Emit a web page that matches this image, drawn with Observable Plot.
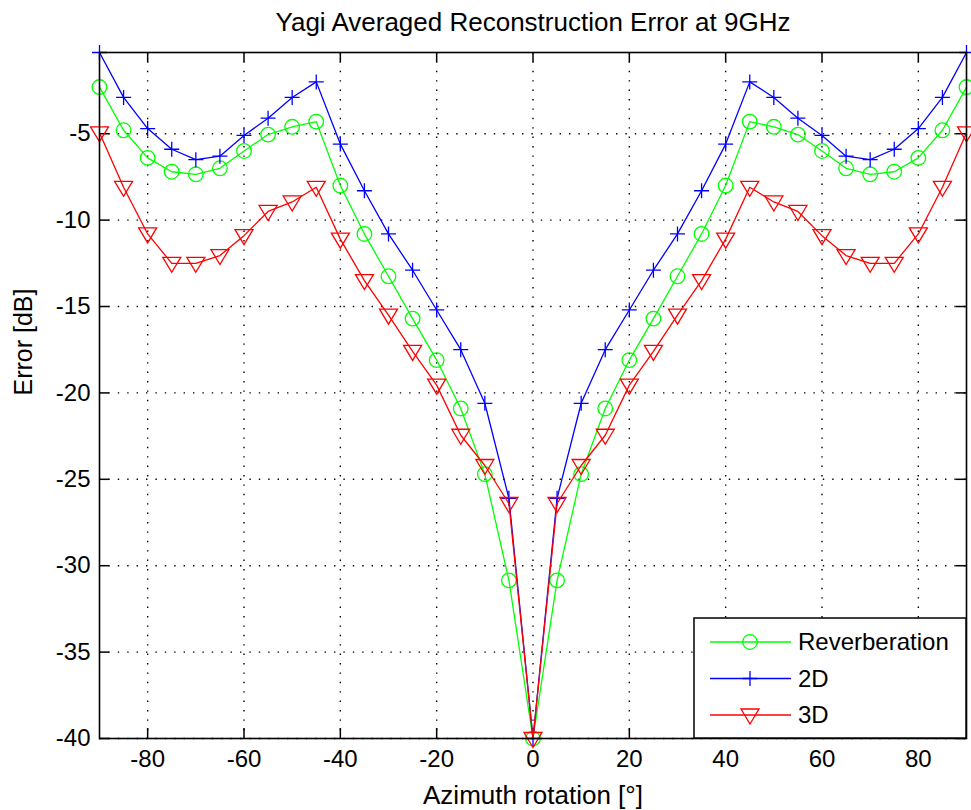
<!DOCTYPE html>
<html><head><meta charset="utf-8">
<script src="https://cdn.jsdelivr.net/npm/d3@7"></script>
<script src="https://cdn.jsdelivr.net/npm/@observablehq/plot@0.6"></script>
<style>
html,body{margin:0;padding:0;background:#fff;}
#chart svg{display:block}
</style></head><body><div id="chart"></div>
<script>
const title = "Yagi Averaged Reconstruction Error at 9GHz";
const xLabel = "Azimuth rotation [°]";
const yLabel = "Error [dB]";
const seriesNames = ["Reverberation", "2D", "3D"];
const seriesColors = ["#00ff00", "#0000ff", "#ff0000"];
const azimuth = [-90,-85,-80,-75,-70,-65,-60,-55,-50,-45,-40,-35,-30,-25,-20,-15,-10,-5,0,5,10,15,20,25,30,35,40,45,50,55,60,65,70,75,80,85,90];
const reverberation = [-2.3,-4.8,-6.4,-7.2,-7.35,-7.0,-6.0,-5.05,-4.6,-4.3,-8.0,-10.8,-13.25,-15.7,-18.1,-20.9,-24.7,-30.85,-40,-30.85,-24.7,-20.9,-18.1,-15.7,-13.25,-10.8,-8.0,-4.3,-4.6,-5.05,-6.0,-7.0,-7.35,-7.2,-6.4,-4.8,-2.3];
const twoD = [-0.3,-2.9,-4.7,-5.9,-6.5,-6.3,-5.1,-4.1,-2.9,-2.0,-5.6,-8.3,-10.8,-12.9,-15.2,-17.5,-20.6,-26.1,-40,-26.1,-20.6,-17.5,-15.2,-12.9,-10.8,-8.3,-5.6,-2.0,-2.9,-4.1,-5.1,-6.3,-6.5,-5.9,-4.7,-2.9,-0.3];
const threeD = [-4.95,-8.1,-10.8,-12.5,-12.5,-12.05,-10.9,-9.5,-8.95,-8.1,-11.1,-13.5,-15.5,-17.6,-19.55,-22.45,-24.2,-26.4,-40,-26.4,-24.2,-22.45,-19.55,-17.6,-15.5,-13.5,-11.1,-8.1,-8.95,-9.5,-10.9,-12.05,-12.5,-12.5,-10.8,-8.1,-4.95];
const xTicks = [-80,-60,-40,-20,0,20,40,60,80];
const yTicks = [-40,-35,-30,-25,-20,-15,-10,-5];

const W = 971, H = 810, mL = 99, mR = 5, mT = 52, mB = 72;
const fw = W - mL - mR, fh = H - mT - mB;

const seriesValues = [reverberation, twoD, threeD];
const rows = [];
seriesNames.forEach((s, i) => azimuth.forEach((a, j) => rows.push({series: s, az: a, err: seriesValues[i][j]})));

const plusSym = {draw(ctx, size) { const r = Math.sqrt(size / Math.PI); ctx.moveTo(-r, 0); ctx.lineTo(r, 0); ctx.moveTo(0, -r); ctx.lineTo(0, r); }};
const triDown = {draw(ctx, size) { const r = Math.sqrt(size / Math.PI); ctx.moveTo(-r * 1.2, -r * 0.8); ctx.lineTo(r * 1.2, -r * 0.8); ctx.lineTo(0, r * 1.2); ctx.closePath(); }};
const circleSym = {draw(ctx, size) { const r = Math.sqrt(size / Math.PI); ctx.moveTo(r, 0); ctx.arc(0, 0, r, 0, 2 * Math.PI); }};
const symbols = [circleSym, plusSym, triDown];
const radii = [7.3, 7.5, 7.5];

const grid = {stroke: "black", strokeOpacity: 1, strokeWidth: 1.4, strokeDasharray: "1.4,8"};
const tickStyle = {stroke: "black", strokeWidth: 1.5};
const fmt = d => String(d);

const marks = [
  Plot.gridX(xTicks, {...grid}),
  Plot.gridY(yTicks, {...grid}),
  Plot.tickX(xTicks, {x: d => d, ...tickStyle, insetTop: fh - 10}),
  Plot.tickX(xTicks, {x: d => d, ...tickStyle, insetBottom: fh - 10}),
  Plot.tickY(yTicks, {y: d => d, ...tickStyle, insetRight: fw - 10}),
  Plot.tickY(yTicks, {y: d => d, ...tickStyle, insetLeft: fw - 10}),
  Plot.axisX({ticks: xTicks, tickFormat: fmt, tickSize: 0, tickPadding: 11, fontSize: 24, label: null}),
  Plot.axisY({ticks: yTicks, tickFormat: fmt, tickSize: 0, tickPadding: 9, fontSize: 24, label: null}),
];
seriesNames.forEach((s, i) => {
  const d = rows.filter(r => r.series === s);
  marks.push(Plot.line(d, {x: "az", y: "err", stroke: seriesColors[i], strokeWidth: 1.3}));
  marks.push(Plot.dot(d, {x: "az", y: "err", stroke: seriesColors[i], fill: "none", strokeWidth: 1.3, r: radii[i], symbol: symbols[i]}));
});
marks.push(Plot.frame({stroke: "black", strokeWidth: 1.6}));
marks.push(Plot.text([title], {frameAnchor: "top", lineAnchor: "middle", dy: -30, fontSize: 26, fill: "black"}));
marks.push(Plot.text([xLabel], {frameAnchor: "bottom", lineAnchor: "middle", dy: 57, fontSize: 26, fill: "black"}));
marks.push(Plot.text([yLabel], {frameAnchor: "left", lineAnchor: "middle", dx: -76, rotate: -90, fontSize: 25, fill: "black"}));

const chart = Plot.plot({
  width: W, height: H,
  marginLeft: mL, marginRight: mR, marginTop: mT, marginBottom: mB,
  style: {fontFamily: "'Liberation Sans', Arial, sans-serif", fontSize: "24px", color: "black", background: "white", overflow: "visible"},
  x: {domain: [-90, 90], axis: null},
  y: {domain: [-40, d3.max(twoD)], axis: null},
  marks
});
document.getElementById("chart").appendChild(chart);

// Legend (drawn into the same SVG, MATLAB-style box at lower right)
const svg = d3.select(chart);
const lx = mL + fw - 272, ly = mT + fh - 120;
const lg = svg.append("g").attr("transform", `translate(${lx},${ly})`);
lg.append("rect").attr("x", 0).attr("y", 0).attr("width", 272).attr("height", 120)
  .attr("fill", "white").attr("stroke", "black").attr("stroke-width", 1.5);
seriesNames.forEach((s, i) => {
  const cy = 24 + i * 36.5;
  lg.append("line").attr("x1", 16).attr("x2", 97).attr("y1", cy).attr("y2", cy)
    .attr("stroke", seriesColors[i]).attr("stroke-width", 1.3);
  lg.append("path").attr("transform", `translate(56,${cy})`)
    .attr("d", d3.symbol(symbols[i], Math.PI * radii[i] * radii[i])())
    .attr("fill", "none").attr("stroke", seriesColors[i]).attr("stroke-width", 1.3);
  lg.append("text").attr("x", 104).attr("y", cy).attr("dy", "0.35em")
    .attr("text-anchor", "start")
    .attr("font-size", 24).attr("fill", "black").text(s);
});
</script></body></html>
